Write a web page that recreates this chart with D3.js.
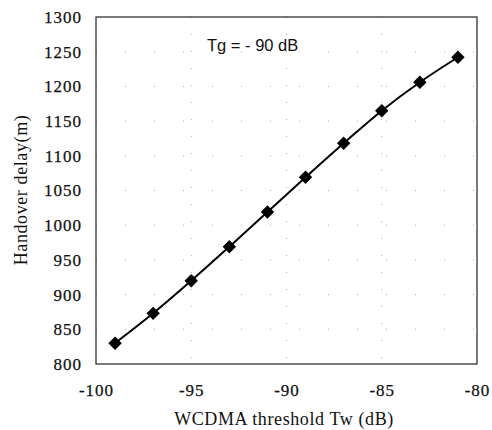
<!DOCTYPE html>
<html>
  <head>
    <meta charset="UTF-8">
    <title>Handover delay</title>
    <style>
      body { margin: 0; background: #fff; }
      svg text { fill: #111; }
      .axis text { font-family: "Liberation Serif", serif; font-size: 17px; letter-spacing: 1px; fill: #111; stroke: #111; stroke-width: 0.25px; }
    </style>
  </head>
  <body>
    <script src="https://d3js.org/d3.v7.min.js"></script>
    <svg width="492" height="430" id="chart"></svg>
    <script>
      // data
      var thresholds = [-99, -97, -95, -93, -91, -89, -87, -85, -83, -81];
      var delays = [830, 873, 920, 969, 1019, 1069, 1118, 1165, 1206, 1242];
      var xTicks = [-100, -95, -90, -85, -80];
      var yTicks = [800, 850, 900, 950, 1000, 1050, 1100, 1150, 1200, 1250, 1300];
      var note = "Tg = - 90 dB";

      var svg = d3.select("#chart"),
          plotLeft = 96, plotRight = 477, plotTop = 17, plotBottom = 364;

      var x = d3.scaleLinear().domain([-100, -80]).range([plotLeft, plotRight]);
      var y = d3.scaleLinear().domain([800, 1300]).range([plotBottom, plotTop]);

      // sparse dotted grid, like the scanned original
      svg.append("g").selectAll("line")
        .data(yTicks.slice(1, -1))
        .enter().append("line")
        .attr("x1", plotLeft).attr("x2", plotRight)
        .attr("y1", function(d) { return y(d); })
        .attr("y2", function(d) { return y(d); })
        .attr("stroke", "#aaa")
        .attr("stroke-dasharray", "1,28");

      svg.append("g").selectAll("line")
        .data(xTicks.slice(1, -1))
        .enter().append("line")
        .attr("y1", plotTop).attr("y2", plotBottom)
        .attr("x1", function(d) { return x(d); })
        .attr("x2", function(d) { return x(d); })
        .attr("stroke", "#aaa")
        .attr("stroke-dasharray", "1,16");

      // axes (plain hyphen minus, no thousands comma)
      var plain = function(d) { return String(d); };
      var xAxis = svg.append("g")
        .attr("class", "axis")
        .attr("transform", "translate(0," + plotBottom + ")")
        .call(d3.axisBottom(x).tickValues(xTicks).tickFormat(plain).tickSize(0).tickPadding(20));
      var yAxis = svg.append("g")
        .attr("class", "axis")
        .attr("transform", "translate(" + plotLeft + ",0)")
        .call(d3.axisLeft(y).tickValues(yTicks).tickFormat(plain).tickSize(0).tickPadding(14));

      [xAxis, yAxis].forEach(function(a) {
        a.attr("font-family", null).attr("font-size", null);
        a.select(".domain").remove();
      });

      // frame
      svg.append("rect")
        .attr("x", plotLeft).attr("y", plotTop)
        .attr("width", plotRight - plotLeft).attr("height", plotBottom - plotTop)
        .attr("fill", "none")
        .attr("stroke", "#222")
        .attr("stroke-width", 1.2);

      // curve
      var line = d3.line()
        .x(function(d, i) { return x(thresholds[i]); })
        .y(function(d) { return y(d); })
        .curve(d3.curveCatmullRom);

      svg.append("path")
        .datum(delays)
        .attr("d", line)
        .attr("fill", "none")
        .attr("stroke", "#000")
        .attr("stroke-width", 2);

      svg.append("g").selectAll("path")
        .data(delays)
        .enter().append("path")
        .attr("d", d3.symbol().type(d3.symbolSquare).size(90))
        .attr("transform", function(d, i) {
          return "translate(" + x(thresholds[i]) + "," + y(d) + ") rotate(45)";
        })
        .attr("fill", "#000");

      // note
      svg.append("text")
        .attr("x", 207).attr("y", 51)
        .attr("font-family", "Liberation Sans")
        .attr("font-size", 16.5)
        .text(note);

      // titles
      svg.append("text")
        .attr("x", 284).attr("y", 425)
        .attr("text-anchor", "middle")
        .attr("font-family", "Liberation Serif")
        .attr("font-size", 18)
        .attr("letter-spacing", "0.6px")
        .text("WCDMA threshold Tw (dB)");

      svg.append("text")
        .attr("transform", "translate(27,190) rotate(-90)")
        .attr("text-anchor", "middle")
        .attr("font-family", "Liberation Serif")
        .attr("font-size", 18)
        .attr("letter-spacing", "0.6px")
        .text("Handover delay(m)");
    </script>
  </body>
</html>
